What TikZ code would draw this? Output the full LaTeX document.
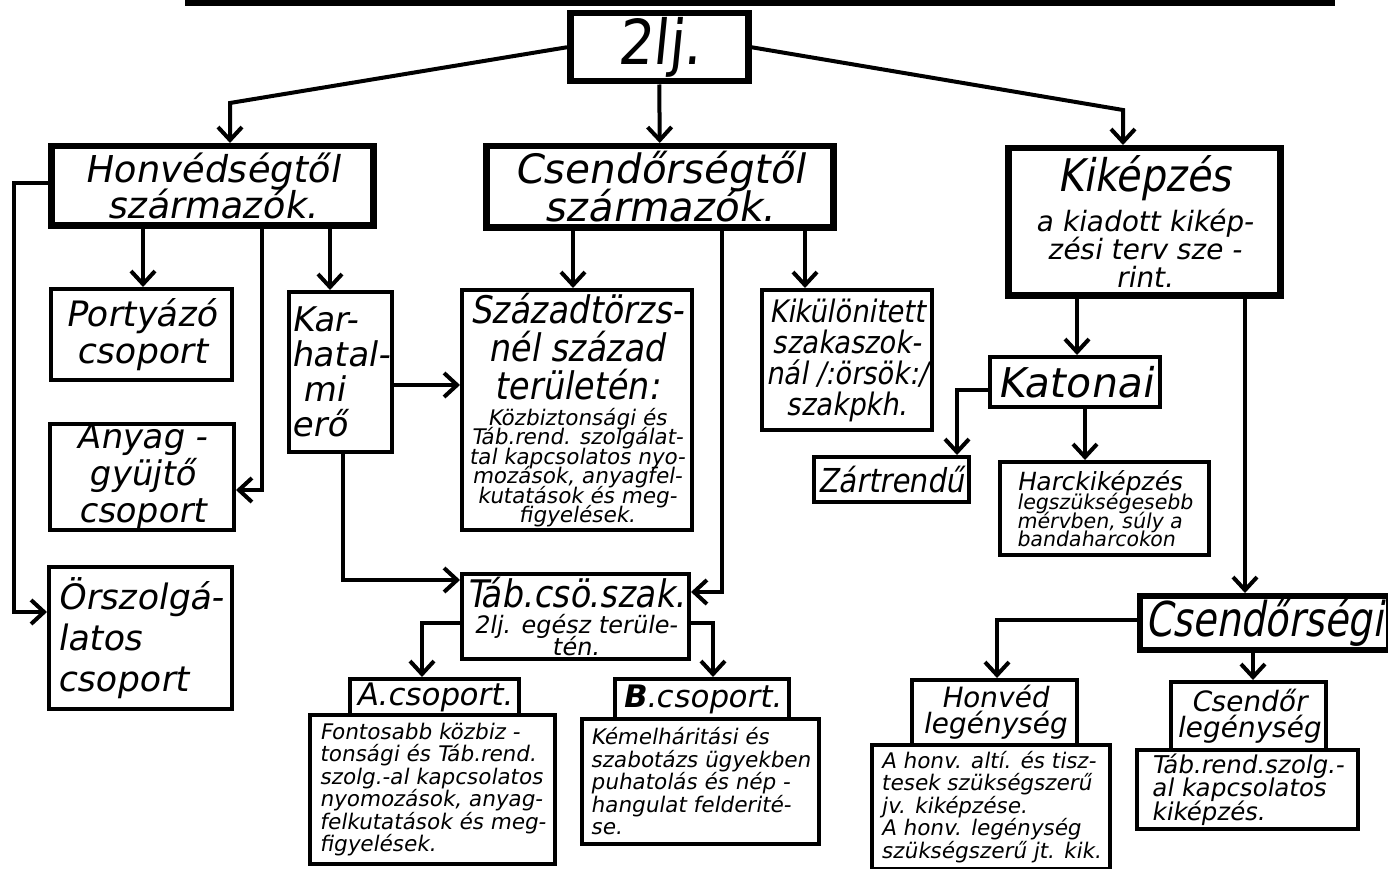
\documentclass[tikz,border=0pt]{standalone}
\usepackage{fontspec}
\setmainfont{DejaVu Sans}[FakeSlant=0.18]
\newfontfamily\narrowf{DejaVu Sans}[FakeSlant=0.10,FakeStretch=0.9]
\newfontfamily\condf{DejaVu Sans}[FakeSlant=0.18,FakeStretch=0.88]
\newfontfamily\medf{DejaVu Sans}[FakeSlant=0.18,FakeStretch=0.8]
\usetikzlibrary{arrows.meta}
\newcommand{\pbox}[7][]{\node[#1, anchor=north west, minimum width={(#5-#3)*1pt}, minimum height={(#6-#4)*1pt}] (#2) at (#3,#4) {#7};}
\newcommand{\fs}[2]{\fontsize{#1}{#2}\selectfont\lineskiplimit=-60pt\relax}
\newcommand{\szs}{\normalfont\fontsize{21.5}{19.5}\selectfont\lineskiplimit=-60pt\relax}
\tikzset{
  heavybox/.style={draw, line width=6.5pt, inner sep=0pt, align=center},
  plainbox/.style={draw, line width=4pt, inner sep=0pt, align=center},
  conn/.style={line width=4pt},
  arr/.style={conn, -{Straight Barb[length=13pt,width=24pt,line width=4pt]}},
}
\begin{document}
\begin{tikzpicture}[x=1pt,y=-1pt]
\useasboundingbox (0,0) rectangle (1388,869);
% title underline (cut off)
\draw[line width=6pt] (185,3) -- (1335,3);
% level 0
\pbox[heavybox, font=\narrowf\fs{62}{62}]{zlj}{567}{10}{745}{78}{2lj.}
% level 1
\pbox[heavybox, font=\fs{37}{36}]{hon}{48}{143}{370}{222}{Honvédségtől\\származók.}
\pbox[heavybox, font=\fs{40.5}{38}]{csen}{483}{143}{830}{224}{Csendőrségtől\\származók.}
\pbox[heavybox, font=\fs{28}{28}]{kik}{1005}{145}{1277}{292}{{\condf\fs{45}{40}Kiképzés}\\[12pt]a kiadott kikép-\\zési terv sze -\\rint.}
% honvéd branch
\pbox[plainbox, font=\fs{35}{37}]{port}{49}{287}{230}{378}{Portyázó\\csoport}
\pbox[plainbox, font=\fs{34}{37}]{anyag}{48}{422}{232}{510}{Anyag -\\gyüjtő\\csoport}
\pbox[plainbox, font=\fs{35}{41}, align=left]{orsz}{47}{565}{230}{707}{Örszolgá-\\latos\\csoport}
\pbox[plainbox, font=\fs{34}{35}, align=left]{karh}{287}{290}{390}{450}{Kar-\\hatal-\\\ mi\\erő}
% csendőr branch
\pbox[plainbox, font=\condf\fs{38}{38}]{szaz}{460}{288}{690}{528}{Századtörzs-\\nél század\\területén:\\[-12pt]\parbox[t]{226pt}{\centering\szs Közbiztonsági és\\Táb.rend. szolgálat-\\tal kapcsolatos nyo-\\mozások, anyagfel-\\kutatások és meg-\\figyelések.}}
\pbox[plainbox, font=\condf\fs{31}{31}]{kikul}{760}{288}{930}{428}{Kikülönitett\\szakaszok-\\nál /:örsök:/\\szakpkh.}
\pbox[plainbox, font=\fs{24}{22}]{tab}{460}{572}{687}{657}{{\condf\fs{38}{36}Táb.csö.szak.}\\[4pt]2lj. egész terüle-\\tén.}
% A / B groups
\pbox[plainbox, font=\fs{31}{31}]{acsop}{348}{677}{517}{713}{A.csoport.}
\pbox[plainbox, font=\fs{21.5}{22.5}, align=left]{fontos}{308}{713}{553}{862}{Fontosabb közbiz -\\tonsági és Táb.rend.\\szolg.-al kapcsolatos\\nyomozások, anyag-\\felkutatások és meg-\\figyelések.}
\pbox[plainbox, font=\fs{31}{31}]{bcsop}{613}{677}{787}{717}{\textbf{B}.csoport.}
\pbox[plainbox, font=\fs{21.5}{22.5}, align=left]{kemel}{580}{717}{817}{842}{Kémelháritási és\\szabotázs ügyekben\\puhatolás és nép -\\hangulat felderité-\\se.}
% kiképzés branch
\pbox[plainbox, font=\fs{41}{41}]{katon}{988}{355}{1158}{405}{Katonai}
\pbox[plainbox, font=\condf\fs{33}{33}]{zart}{812}{455}{967}{500}{Zártrendű}
\pbox[plainbox, font=\fs{20.5}{18.5}, align=left]{harc}{998}{460}{1207}{553}{{\fs{25}{22}Harckiképzés}\\[1pt]legszükségesebb\\mérvben, súly a\\bandaharcokon}
\pbox[heavybox, line width=5.5pt, font=\medf\fs{48}{48}]{csgi}{1137}{593}{1386}{647}{Csendőrségi}
\pbox[plainbox, font=\fs{28}{26}]{hleg}{910}{678}{1075}{743}{Honvéd\\legénység}
\pbox[plainbox, font=\fs{21.5}{22.5}, align=left]{ahonv}{870}{743}{1108}{867}{A honv. altí. és tisz-\\tesek szükségszerű\\jv. kiképzése.\\A honv. legénység\\szükségszerű jt. kik.}
\pbox[plainbox, font=\fs{28}{26}]{csleg}{1169}{680}{1324}{748}{Csendőr\\legénység}
\pbox[plainbox, font=\fs{24.5}{23.5}, align=left]{tabr}{1135}{748}{1356}{827}{Táb.rend.szolg.-\\al kapcsolatos\\kiképzés.}
% connectors
\coordinate (p1) at (230,103);
\draw[arr] (zlj.west) -- (p1) -- (hon.north -| p1);
\draw[arr] (zlj.south) -- (csen.north);
\coordinate (p2) at (1123,110);
\draw[arr] (zlj.east) -- (p2) -- (kik.north -| p2);
\coordinate (p3) at (14,183); \coordinate (p3b) at (14,612);
\draw[arr] (hon.west |- p3) -- (p3) -- (p3b) -- (orsz.west |- p3b);
\coordinate (p4) at (143,0);
\draw[arr] (hon.south -| p4) -- (port.north -| p4);
\coordinate (p5) at (262,490);
\draw[arr] (hon.south -| p5) -- (p5) -- (anyag.east |- p5);
\coordinate (p6) at (330,0);
\draw[arr] (hon.south -| p6) -- (karh.north -| p6);
\coordinate (p7) at (0,385);
\draw[arr] (karh.east |- p7) -- (szaz.west |- p7);
\coordinate (p8) at (343,580);
\draw[arr] (karh.south -| p8) -- (p8) -- (tab.west |- p8);
\coordinate (p9) at (573,0);
\draw[arr] (csen.south -| p9) -- (szaz.north -| p9);
\coordinate (p10) at (722,592);
\draw[arr] (csen.south -| p10) -- (p10) -- (tab.east |- p10);
\coordinate (p11) at (805,0);
\draw[arr] (csen.south -| p11) -- (kikul.north -| p11);
\coordinate (p12) at (1077,0);
\draw[arr] (kik.south -| p12) -- (katon.north -| p12);
\coordinate (p13) at (1245,0);
\draw[arr] (kik.south -| p13) -- (csgi.north -| p13);
\coordinate (p14) at (957,390);
\draw[arr] (katon.west |- p14) -- (p14) -- (zart.north -| p14);
\coordinate (p15) at (1085,0);
\draw[arr] (katon.south -| p15) -- (harc.north -| p15);
\coordinate (p16) at (422,623);
\draw[arr] (tab.west |- p16) -- (p16) -- (acsop.north -| p16);
\coordinate (p17) at (713,623);
\draw[arr] (tab.east |- p17) -- (p17) -- (bcsop.north -| p17);
\coordinate (p18) at (997,620);
\draw[arr] (csgi.west |- p18) -- (p18) -- (hleg.north -| p18);
\coordinate (p19) at (1253,0);
\draw[arr] (csgi.south -| p19) -- (csleg.north -| p19);
\end{tikzpicture}
\end{document}
